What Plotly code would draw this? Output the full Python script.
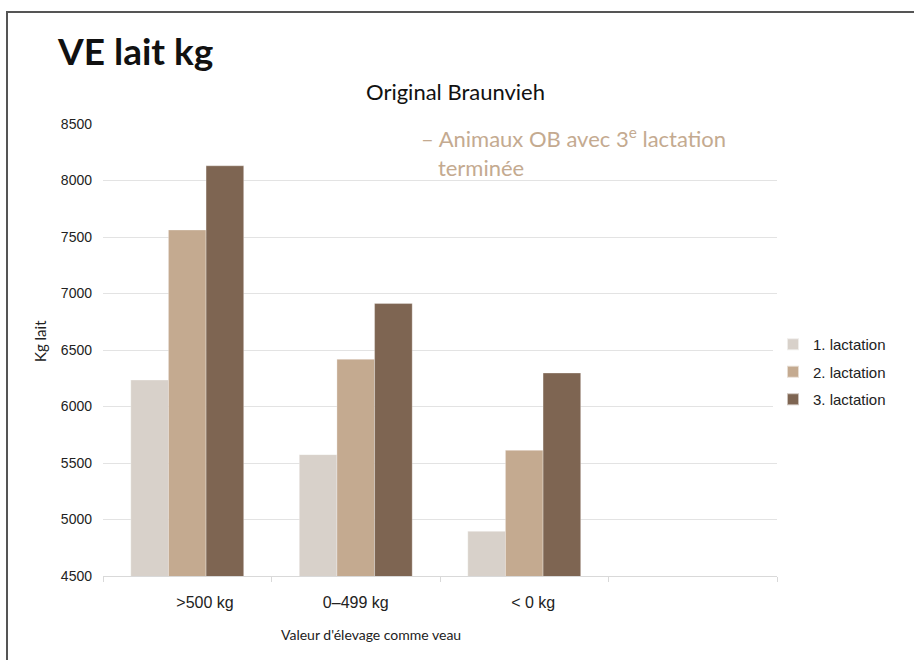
import plotly.graph_objects as go

categories = [">500 kg", "0–499 kg", "< 0 kg", " "]
tick_text = ["\u00a0" * 8 + ">500 kg", "0–499 kg", "\u00a0" * 4 + "< 0 kg", "\u00a0"]
series_names = ["1. lactation", "2. lactation", "3. lactation"]
lact1 = [6234, 5574, 4895]
lact2 = [7562, 6418, 5612]
lact3 = [8130, 6911, 6296]
colors = ["#D8D1CA", "#C4AA90", "#7E6552"]

W, H = 914, 660
L, R, T, B = 103, 137, 124, 84
pw, ph = W - L - R, H - T - B

def px(x):
    return (x - L) / pw

def py(y):
    return (H - B - y) / ph

fig = go.Figure()
for i, (name, vals, c) in enumerate(zip(series_names, [lact1, lact2, lact3], colors)):
    fig.add_trace(go.Bar(
        x=categories[:len(vals)], y=vals, name=name, legendgroup=f"g{i}",
        marker=dict(color=c, line=dict(color="rgba(255,255,255,0.6)", width=0.5)),
    ))

fig.update_layout(
    width=W, height=H,
    margin=dict(l=L, r=R, t=T, b=B),
    paper_bgcolor="white", plot_bgcolor="white",
    barmode="group", bargap=0.33, bargroupgap=0,
    font=dict(family="Liberation Sans, Arial, sans-serif", color="#222", size=13),
    showlegend=True,
    legend=dict(x=px(773), y=py(328), xanchor="left", yanchor="top",
                font=dict(size=15, color="#222"), itemwidth=30,
                tracegroupgap=5, itemsizing="constant"),
    xaxis=dict(
        type="category", categoryorder="array", categoryarray=categories,
        tickvals=categories, ticktext=tick_text,
        range=[-0.5, 3.5], showgrid=False,
        showline=True, linecolor="#D9D9D9", linewidth=1,
        ticks="outside", tickson="boundaries", ticklen=5, tickcolor="#D9D9D9",
        ticklabelstandoff=12,
        tickfont=dict(size=16, color="#222"),
    ),
    yaxis=dict(
        range=[4500, 8500], dtick=500, tick0=4500,
        showgrid=True, gridcolor="#E3E3E3", gridwidth=1,
        zeroline=False, showline=False,
        ticks="", ticklabelstandoff=10,
        tickfont=dict(size=14, color="#222"),
    ),
    annotations=[
        dict(text="<b>VE lait kg</b>", x=px(55), y=py(51), xref="paper", yref="paper",
             xanchor="left", yanchor="middle", showarrow=False,
             font=dict(family="Lato, Open Sans, sans-serif", size=37, color="#111")),
        dict(text="Original Braunvieh", x=px(455), y=py(91.5), xref="paper", yref="paper",
             xanchor="center", yanchor="middle", showarrow=False,
             font=dict(family="Lato, Open Sans, sans-serif", size=22, color="#111")),
        dict(text="– Animaux OB avec 3<sup>e</sup> lactation<br>\u00a0\u00a0\u00a0terminée",
             x=px(419), y=py(121), xref="paper", yref="paper",
             xanchor="left", yanchor="top", align="left", showarrow=False,
             font=dict(family="Lato, Open Sans, sans-serif", size=22, color="#C4AA90")),
        dict(text="Kg lait", x=px(40), y=py(341), xref="paper", yref="paper",
             xanchor="center", yanchor="middle", textangle=-90, showarrow=False,
             font=dict(family="Lato, Open Sans, sans-serif", size=15, color="#222")),
        dict(text="Valeur d'élevage comme veau", x=px(371), y=py(634),
             xref="paper", yref="paper", xanchor="center", yanchor="middle",
             showarrow=False,
             font=dict(family="Lato, Open Sans, sans-serif", size=14, color="#222")),
    ],
    shapes=[
        dict(type="line", xref="paper", yref="paper",
             x0=px(6), x1=px(920), y0=py(12), y1=py(12),
             line=dict(color="#555555", width=2)),
        dict(type="line", xref="paper", yref="paper",
             x0=px(7), x1=px(7), y0=py(11), y1=py(670),
             line=dict(color="#555555", width=2)),
    ],
)

fig.write_html(
    "out.html",
    config={"displayModeBar": False},
    post_script="document.body.style.margin='0px';document.body.style.overflow='hidden';",
)
